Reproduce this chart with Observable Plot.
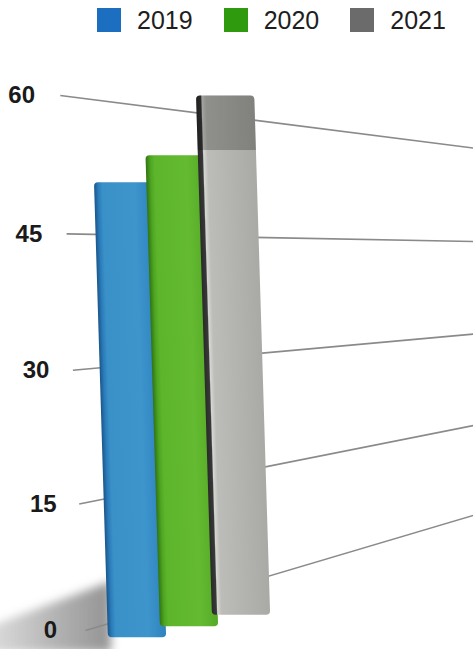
<!DOCTYPE html>
<html><head><meta charset="utf-8">
<script src="https://cdn.jsdelivr.net/npm/d3@7"></script>
<script src="https://cdn.jsdelivr.net/npm/@observablehq/plot@0.6"></script>
<style>
body{margin:0;background:#fff;font-family:"Liberation Sans",Arial,sans-serif;}
#legend{height:40px;display:flex;align-items:center;padding-left:97px;box-sizing:border-box;}
#legend .item{display:flex;align-items:center;margin-right:31px;}
#legend .sw{width:24px;height:24px;margin-right:16px;}
#legend .lab{font-size:25px;color:#1e1e1e;line-height:1;}
#chart svg{display:block;}
</style></head><body>
<div id="legend"></div><div id="chart"></div>
<script>
// ---- data ----
const years = ["2019", "2020", "2021"];
const values = [51.5, 53, 58];
const yTicks = [0, 15, 30, 45, 60];
const legendColors = ["#1b6ec0", "#2f9a0e", "#6b6b6b"];

// ---- legend ----
const legend = document.getElementById("legend");
years.forEach((y, i) => {
  const it = document.createElement("div"); it.className = "item";
  it.innerHTML = `<div class="sw" style="background:${legendColors[i]}"></div><span class="lab">${y}</span>`;
  legend.appendChild(it);
});

// ---- perspective helpers (layout only) ----
const W = 473, H = 609;
const X0 = 137, STEP = 52;            // pixel centre of first bar base, pixels per category step
const xu = px => (px - X0) / STEP;    // pixel -> category units
const labelX = v => xu(50 - 0.48 * v);
const gridStart = v => xu(85 - 0.42 * v);
const gridEnd = v => 13.7 + 0.677 * v; // grid plane recedes to the right
const floorOf = i => -0.95 + 1.45 * i; // bar bases step back in depth
const HALF = 0.56;

const bars = years.map((year, i) => ({year, i, value: values[i]}));
// cast shadow of the first bar on the floor
const shadow = [
  {x: xu(-10), lo: -2.8, hi: 0.5},
  {x: -0.5, lo: -2.8, hi: 6.0}
];

const chart = Plot.plot({
  width: W, height: H, margin: 0,
  x: {type: "linear", domain: [xu(0), xu(W)], range: [0, W], axis: null},
  y: {type: "pow", exponent: 1.04, domain: [0, 60], range: [590, 55], axis: null},
  marks: [
    Plot.areaY(shadow, {x: "x", y1: "lo", y2: "hi", fill: "url(#shadowGrad)"}),
    Plot.link(yTicks, {x1: d => gridStart(d), y1: d => d, x2: xu(W), y2: d => gridEnd(d), stroke: "#8a8a8a", strokeWidth: 1.6}),
    Plot.text(yTicks, {x: labelX, y: d => d, text: d => String(d), fontSize: 24, fontWeight: "bold", fill: "#1a1a1a", fontFamily: "Liberation Sans, Arial, sans-serif"}),
    ...bars.map(b => Plot.rect([b], {x1: d => d.i - HALF, x2: d => d.i + HALF, y1: d => floorOf(d.i), y2: d => floorOf(d.i) + d.value, fill: `url(#grad${b.year})`, rx: 4})),
    Plot.rect(bars.filter(d => d.year === "2021"), {x1: d => d.i - HALF, x2: d => d.i + HALF, y1: d => floorOf(d.i), y2: d => floorOf(d.i) + d.value, fill: "url(#cap)", rx: 4})
  ]
});

const defs = `
<defs>
<filter id="blur" filterUnits="userSpaceOnUse" x="-50" y="400" width="300" height="300"><feGaussianBlur stdDeviation="5"/></filter>
<linearGradient id="shadowGrad" x1="0" x2="1" y1="0" y2="0">
 <stop offset="0" stop-color="#9a9a9a" stop-opacity="0.35"/><stop offset="0.6" stop-color="#8c8c8c" stop-opacity="0.7"/>
 <stop offset="1" stop-color="#808080" stop-opacity="0.85"/>
</linearGradient>
<linearGradient id="grad2019" x1="0" x2="1" y1="0" y2="0">
 <stop offset="0" stop-color="#1b568a"/><stop offset="0.07" stop-color="#2a7cba"/>
 <stop offset="0.14" stop-color="#3a91c8"/><stop offset="0.7" stop-color="#3d95cc"/><stop offset="1" stop-color="#2f82bd"/>
</linearGradient>
<linearGradient id="grad2020" x1="0" x2="1" y1="0" y2="0">
 <stop offset="0" stop-color="#2f7412"/><stop offset="0.08" stop-color="#4ea522"/>
 <stop offset="0.15" stop-color="#5db52b"/><stop offset="0.7" stop-color="#64bb31"/><stop offset="1" stop-color="#55aa26"/>
</linearGradient>
<linearGradient id="grad2021" x1="0" x2="1" y1="0" y2="0">
 <stop offset="0" stop-color="#2a2a2a"/><stop offset="0.08" stop-color="#383838"/>
 <stop offset="0.1" stop-color="#d6d6d2"/><stop offset="0.17" stop-color="#bcbcb8"/><stop offset="1" stop-color="#a9a9a5"/>
</linearGradient>
<linearGradient id="cap" x1="0" x2="0" y1="0" y2="1">
 <stop offset="0" stop-color="#000" stop-opacity="0.24"/><stop offset="0.105" stop-color="#000" stop-opacity="0.24"/>
 <stop offset="0.106" stop-color="#000" stop-opacity="0"/><stop offset="1" stop-color="#000" stop-opacity="0"/>
</linearGradient>
</defs>`;
chart.insertAdjacentHTML("afterbegin", defs);
const areaG = chart.querySelector('g[aria-label="area"]');
if (areaG) areaG.setAttribute("filter", "url(#blur)");
// lean the bars slightly, as in the perspective view (pivot at each bar's base)
chart.querySelectorAll('g[aria-label="rect"] rect').forEach(r => {
  const yb = (+r.getAttribute("y")) + (+r.getAttribute("height"));
  r.setAttribute("transform", `translate(0,${yb}) skewX(1.75) translate(0,${-yb})`);
});
document.getElementById("chart").appendChild(chart);
</script>
</body></html>
